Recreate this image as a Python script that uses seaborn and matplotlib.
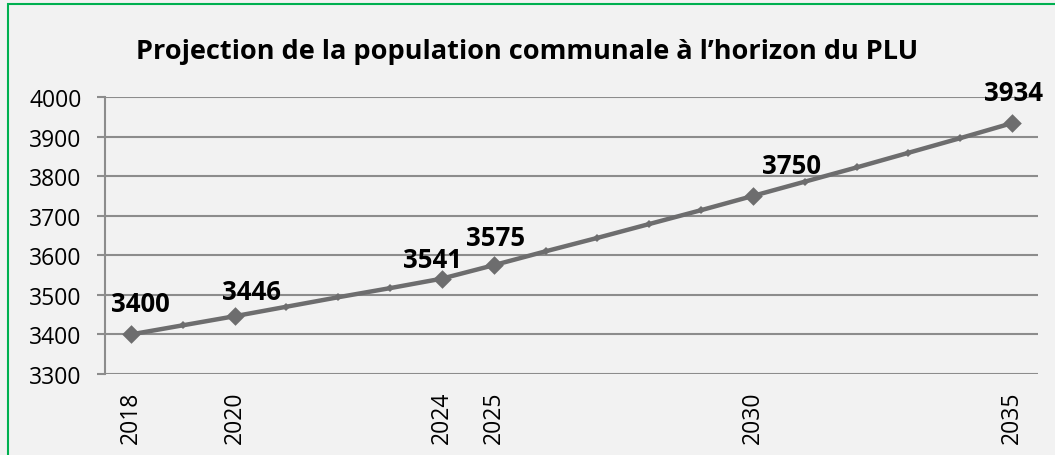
import matplotlib
matplotlib.use("Agg")
import matplotlib.pyplot as plt
import seaborn as sns
import pandas as pd
from matplotlib.patches import Rectangle

years = list(range(2018, 2036))
population = [3400, 3423, 3446, 3470, 3494, 3517, 3541, 3575, 3610, 3644,
              3679, 3714, 3750, 3786, 3822, 3859, 3896, 3934]
label_years = [2018, 2020, 2024, 2025, 2030, 2035]
y_ticks = [3300, 3400, 3500, 3600, 3700, 3800, 3900, 4000]
title = "Projection de la population communale à l’horizon du PLU"

df = pd.DataFrame({"annee": years, "population": population})
lab = df[df["annee"].isin(label_years)]

sns.set_theme(style="white")
plt.rcParams["font.family"] = ["Open Sans", "DejaVu Sans"]

bg = "#f2f2f2"
fig = plt.figure(figsize=(10.55, 4.56), dpi=100, facecolor=bg)
ax = fig.add_axes([105 / 1055, 1 - 375 / 456, (1038 - 105) / 1055, (375 - 98) / 456])
ax.set_facecolor(bg)

line_col = "#6d6d6e"
sns.lineplot(data=df, x="annee", y="population", ax=ax, color=line_col,
             linewidth=3.2, marker="D", markersize=4.5, markeredgewidth=0,
             zorder=3)
sns.scatterplot(data=lab, x="annee", y="population", ax=ax, color=line_col,
                marker="D", s=90, linewidth=0, zorder=4)

ax.set_xlim(2017.5, 2035.5)
ax.set_ylim(3300, 4000)
ax.set_yticks(y_ticks)
ax.set_xticks(label_years)
ax.set_xticklabels([str(y) for y in label_years], rotation=90)
ax.set_xlabel("")
ax.set_ylabel("")

grid_col = "#8c8c8c"
ax.yaxis.grid(True, color=grid_col, linewidth=1.5)
ax.xaxis.grid(False)
for s in ["top", "right", "bottom"]:
    ax.spines[s].set_visible(False)
ax.spines["left"].set_color(grid_col)
ax.spines["left"].set_linewidth(1.5)
ax.tick_params(axis="y", which="major", length=6, width=1.5, color=grid_col,
               direction="out", pad=11, labelsize=16.5, labelcolor="black", left=True)
ax.tick_params(axis="x", which="major", length=0, pad=12, labelsize=16.5,
               labelcolor="black")

offsets = {2018: (7, 22), 2020: (12, 18), 2024: (-7, 14), 2025: (1, 20),
           2030: (28, 22), 2035: (1, 22)}
for yr, val in zip(lab["annee"], lab["population"]):
    ax.annotate(str(val), xy=(yr, val), xytext=offsets[yr], textcoords="offset points",
                ha="center", va="center", fontsize=18.5, fontweight="bold",
                color="black", zorder=5, annotation_clip=False)

fig.text(527 / 1055, 1 - 52 / 456, title, ha="center", va="center",
         fontsize=19.5, fontweight="bold", color="black",
         family=["Open Sans", "DejaVu Sans"])

fig.patches.append(Rectangle((8 / 1055, -0.1), 1.2, 1 - 5 / 456 + 0.1,
                             transform=fig.transFigure, fill=False,
                             edgecolor="#00b050", linewidth=1.5, zorder=10))

fig.savefig("out.png", dpi=100, facecolor=bg)
